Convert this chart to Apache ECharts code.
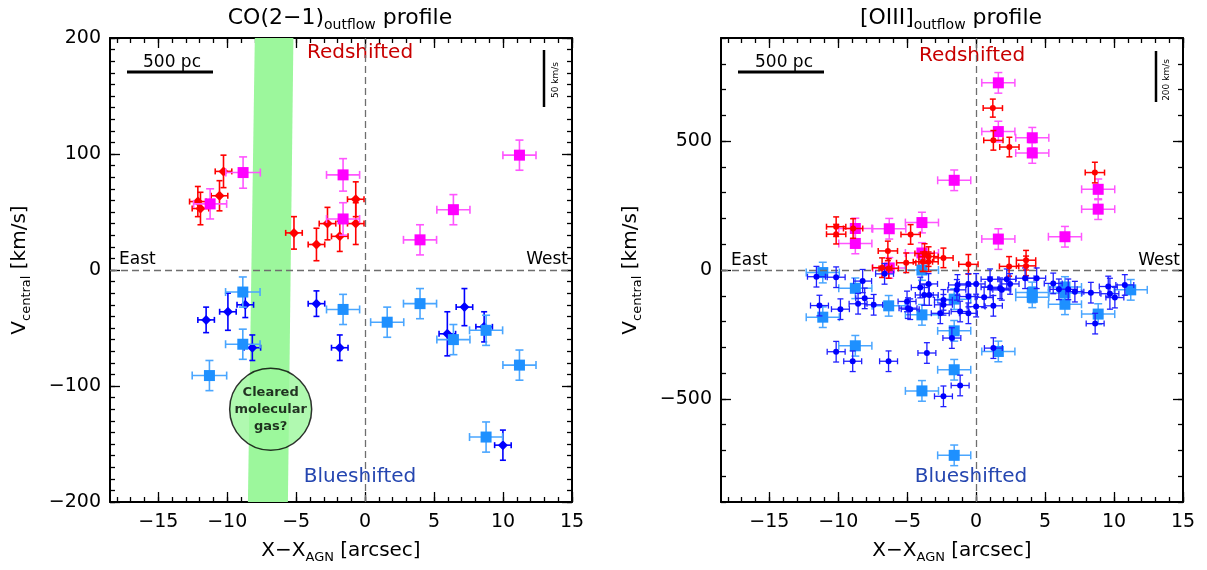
<!DOCTYPE html>
<html>
<head>
<meta charset="utf-8">
<script src="https://cdn.jsdelivr.net/npm/echarts@6/dist/echarts.min.js"></script>
<style>
html, body { margin: 0; padding: 0; background: #fff; }
#chart { width: 1207px; height: 570px; }
</style>
</head>
<body>
<div id="chart"></div>
<script>
// ---- axis ranges and tick labels ----
const X_MIN = -18.5, X_MAX = 15;
const xTickValues = [-15, -10, -5, 0, 5, 10, 15];
const coYMin = -200, coYMax = 200;
const coYTickValues = [-200, -100, 0, 100, 200];
const oiiiYMin = -900, oiiiYMax = 900;
const oiiiYTickValues = [-500, 0, 500];

// ---- CO(2-1) outflow: [offset arcsec, velocity km/s, x error, v error] ----
const coRedDots = [
  [-10.27, 85, 0.6, 14], [-10.56, 64, 0.6, 13], [-12.13, 59, 0.6, 13], [-11.94, 53, 0.6, 14],
  [-5.16, 32, 0.6, 14], [-3.53, 22, 0.6, 14], [-2.73, 40, 0.6, 14], [-1.84, 29, 0.6, 13],
  [-0.68, 61, 0.6, 15], [-0.68, 40, 0.6, 18]
];
const coRedSquares = [
  [-8.85, 84, 1.25, 13.5], [-1.6, 82, 1.2, 14], [-11.24, 57, 1.2, 13], [-1.6, 44, 1.2, 14],
  [11.19, 99, 1.2, 13], [6.4, 52, 1.2, 13], [3.98, 26, 1.2, 13]
];
const coBlueDots = [
  [-11.53, -43, 0.6, 11], [-9.95, -36, 0.6, 16], [-8.69, -30, 0.6, 11], [-8.18, -67, 0.6, 11],
  [-3.53, -29, 0.6, 11], [-1.84, -67, 0.6, 11], [7.2, -32, 0.6, 16], [5.96, -55, 0.6, 19],
  [8.63, -49, 0.6, 13], [9.99, -151, 0.6, 13]
];
const coBlueSquares = [
  [-8.87, -19, 1.25, 13], [-8.87, -64, 1.25, 13], [-11.29, -91, 1.25, 13], [-1.6, -34, 1.2, 13],
  [1.6, -45, 1.2, 13], [3.98, -29, 1.2, 13], [6.4, -60, 1.2, 13], [8.77, -52, 1.2, 13],
  [11.19, -82, 1.2, 13], [8.77, -144, 1.2, 13]
];
// corners of the cleared-gas band: [offset, velocity]
const clearedBand = [[-8.0, 200], [-5.2, 200], [-5.6, -200], [-8.5, -200]];
const clearedMarker = [[-6.85, -120]];

// ---- [OIII] outflow ----
const oiiiRedDots = [
  [1.21, 628, 0.7, 35], [1.25, 503, 0.7, 38], [2.41, 477, 0.7, 38], [8.61, 378, 0.7, 40],
  [-2.37, 47, 0.7, 38], [-0.56, 22, 0.7, 38], [2.39, 14, 0.7, 38], [3.62, 38, 0.7, 38],
  [3.62, 16, 0.7, 38], [-10.15, 168, 0.7, 38], [-10.15, 139, 0.7, 38], [-8.92, 161, 0.7, 38],
  [-4.75, 138, 0.7, 38], [-6.4, 74, 0.7, 38], [-6.82, 9, 0.7, 38], [-5.07, 28, 0.7, 38],
  [-3.74, 64, 0.7, 38], [-3.45, 52, 0.7, 38], [-3.86, 32, 0.7, 38], [-3.45, 32, 0.7, 38],
  [-6.34, 6, 0.7, 38]
];
const oiiiRedSquares = [
  [1.61, 726, 1.2, 40], [1.61, 537, 1.2, 40], [4.07, 513, 1.2, 40], [4.07, 454, 1.2, 40],
  [8.85, 313, 1.2, 40], [8.85, 236, 1.2, 40], [6.44, 129, 1.2, 40], [1.61, 120, 1.2, 40],
  [-1.59, 348, 1.2, 40], [-8.76, 161, 1.2, 40], [-8.76, 103, 1.2, 40], [-6.3, 160, 1.2, 40],
  [-3.93, 184, 1.2, 40], [-6.3, 8, 1.2, 40], [-3.93, 66, 1.2, 40]
];
const oiiiBlueDots = [
  [-11.58, -26, 0.65, 40], [-10.15, -28, 0.65, 40], [-11.36, -138, 0.65, 40], [-9.84, -152, 0.65, 40],
  [-10.15, -317, 0.65, 40], [-8.95, -354, 0.65, 40], [-8.23, -43, 0.65, 45], [-8.56, -131, 0.65, 40],
  [-8.08, -110, 0.65, 40], [-7.43, -135, 0.65, 40], [-6.35, -354, 0.65, 40], [-6.64, -15, 0.65, 40],
  [-5.01, -122, 0.65, 40], [-4.78, -152, 0.65, 40], [-4.05, -68, 0.65, 40], [-3.76, -97, 0.65, 40],
  [-3.4, -97, 0.65, 40], [-3.45, -54, 0.65, 40], [-3.57, -322, 0.65, 40], [-2.37, -490, 0.65, 40],
  [-2.37, -135, 0.65, 40], [-2.6, -168, 0.65, 40], [-1.16, -448, 0.65, 40], [-1.76, -264, 0.65, 40],
  [1.25, -303, 0.65, 40], [1.01, -36, 0.65, 40], [2.22, -36, 0.65, 40], [3.55, -32, 0.65, 40],
  [4.39, -32, 0.65, 40], [1.01, -67, 0.65, 40], [2.46, -54, 0.65, 40], [1.86, -77, 0.65, 40],
  [0.58, -106, 0.65, 40], [0.0, -142, 0.65, 40], [1.25, -139, 0.65, 40], [-0.56, -54, 0.65, 40],
  [0.0, -54, 0.65, 40], [-0.56, -168, 0.65, 40], [-1.16, -161, 0.65, 40], [-1.35, -58, 0.65, 40],
  [-2.37, -116, 0.65, 40], [5.59, -52, 0.65, 40], [7.16, -84, 0.65, 40], [8.32, -88, 0.65, 40],
  [9.58, -64, 0.65, 40], [9.7, -92, 0.65, 60], [10.06, -107, 0.65, 40], [10.78, -58, 0.65, 40],
  [8.63, -208, 0.65, 40], [6.0, -75, 0.65, 40], [6.68, -75, 0.65, 40], [-1.40, -77, 0.65, 40],
  [-0.56, -103, 0.65, 40], [-4.94, -148, 0.65, 40], [1.74, -71, 0.65, 40]
];
const oiiiBlueSquares = [
  [-11.12, -10, 1.2, 40], [-8.76, -71, 1.2, 40], [-11.12, -183, 1.2, 40], [-8.76, -294, 1.2, 40],
  [-6.34, -139, 1.2, 40], [-3.93, 0, 1.2, 40], [-3.93, -174, 1.2, 40], [-3.93, -469, 1.2, 40],
  [-1.59, -113, 1.2, 40], [-1.59, -236, 1.2, 40], [-1.59, -387, 1.2, 40], [-1.59, -719, 1.2, 40],
  [1.61, -316, 1.2, 40], [4.07, -87, 1.2, 40], [4.07, -106, 1.2, 40], [6.44, -66, 1.2, 40],
  [6.44, -89, 1.2, 40], [6.44, -133, 1.2, 40], [8.85, -171, 1.2, 40], [11.21, -77, 1.2, 40]
];

const FONT = 'DejaVu Sans';
const C_RED = '#ff0000', C_MAG = '#ff00ff', C_BLUE = '#0000ff', C_CYAN = '#1e90ff';

function steps(a, b, s) {
  const out = [];
  for (let v = a; v <= b + 1e-9; v += s) out.push(Math.round(v * 1000) / 1000);
  return out;
}
const minus = v => String(v).replace('-', '\u2212');

const nameRich = {
  a: { fontFamily: FONT, fontSize: 20, color: '#000', lineHeight: 28 },
  s: { fontFamily: FONT, fontSize: 13, color: '#000', padding: [13, 0, 0, 0] }
};

function axisSet(kind, grid, min, max, majors, minors, name, nameGap) {
  const isX = kind === 'x';
  const pos = isX ? ['bottom', 'top'] : ['left', 'right'];
  const line = { show: true, onZero: false, lineStyle: { color: '#000', width: 2 } };
  const noLine = { show: false, onZero: false };
  const tickStyle = { color: '#000', width: 1.3 };
  const base = { type: 'value', gridIndex: grid, min, max, splitLine: { show: false } };
  const major = { show: true, inside: true, length: 10, customValues: majors, lineStyle: tickStyle };
  const minor = { show: true, inside: true, length: 5, customValues: minors, lineStyle: tickStyle };
  return [
    Object.assign({}, base, {
      position: pos[0], axisLine: line, axisTick: major,
      axisLabel: { show: true, customValues: majors, formatter: minus, fontFamily: FONT,
                   fontSize: 19, color: '#000', margin: isX ? 11 : 9 },
      name, nameLocation: 'middle', nameGap,
      nameTextStyle: { rich: nameRich }
    }),
    Object.assign({}, base, { position: pos[0], axisLine: noLine, axisTick: minor, axisLabel: { show: false } }),
    Object.assign({}, base, { position: pos[1], axisLine: line, axisTick: major, axisLabel: { show: false } }),
    Object.assign({}, base, { position: pos[1], axisLine: noLine, axisTick: minor, axisLabel: { show: false } })
  ];
}

const xName = '{a|X\u2212X}{s|AGN}{a| [arcsec]}';
const yName = '{a|V}{s|central}{a| [km/s]}';
const xMinor = steps(-18, 15, 1);

const xAxes = [
  ...axisSet('x', 0, X_MIN, X_MAX, xTickValues, xMinor, xName, 35),
  ...axisSet('x', 1, X_MIN, X_MAX, xTickValues, xMinor, xName, 35)
];
const yAxes = [
  ...axisSet('y', 0, coYMin, coYMax, coYTickValues, steps(coYMin, coYMax, 10), yName, 76),
  ...axisSet('y', 1, oiiiYMin, oiiiYMax, oiiiYTickValues, steps(oiiiYMin, oiiiYMax, 100), yName, 76)
];

// error bars with end caps, sized in pixels
function errorBars(data, axisIdx, color, cap, width, z) {
  return {
    type: 'custom', xAxisIndex: axisIdx, yAxisIndex: axisIdx, z,
    data, encode: { x: 0, y: 1 }, silent: true,
    renderItem(params, api) {
      const x = api.value(0), y = api.value(1), ex = api.value(2), ey = api.value(3);
      const c = api.coord([x, y]);
      const l = api.coord([x - ex, y])[0], r = api.coord([x + ex, y])[0];
      const t = api.coord([x, y + ey])[1], b = api.coord([x, y - ey])[1];
      const style = { stroke: color, lineWidth: width, fill: null };
      const seg = (x1, y1, x2, y2) => ({ type: 'line', shape: { x1, y1, x2, y2 }, style });
      return {
        type: 'group', children: [
          seg(l, c[1], r, c[1]), seg(c[0], t, c[0], b),
          seg(l, c[1] - cap, l, c[1] + cap), seg(r, c[1] - cap, r, c[1] + cap),
          seg(c[0] - cap, t, c[0] + cap, t), seg(c[0] - cap, b, c[0] + cap, b)
        ]
      };
    }
  };
}
function markers(data, axisIdx, color, symbol, size, z, extra) {
  return Object.assign({
    type: 'scatter', xAxisIndex: axisIdx, yAxisIndex: axisIdx, z, silent: true,
    data: data.map(d => [d[0], d[1]]), symbol, symbolSize: size,
    itemStyle: { color, opacity: 1 }
  }, extra || {});
}
const zeroLines = {
  silent: true, symbol: ['none', 'none'], label: { show: false },
  lineStyle: { type: [7, 4], color: '#6e6e6e', width: 1.3 },
  data: [{ xAxis: 0 }, { yAxis: 0 }]
};

const series = [
  // cleared molecular gas band
  {
    type: 'custom', xAxisIndex: 0, yAxisIndex: 0, z: 1, silent: true,
    data: [[0]],
    renderItem(params, api) {
      return { type: 'polygon', shape: { points: clearedBand.map(p => api.coord(p)) },
               style: { fill: '#9cf79c' } };
    }
  },
  markers(clearedMarker, 0, '#9cf79c', 'circle', 82, 2, {
    itemStyle: { color: '#9cf79c', borderColor: '#000', borderWidth: 1.5 },
    label: { show: true, position: 'inside', formatter: 'Cleared\nmolecular\ngas?',
             fontFamily: FONT, fontSize: 13, lineHeight: 17, color: '#000', fontWeight: 'bold' },
    markLine: zeroLines
  }),
  // CO(2-1) panel
  errorBars(coRedDots, 0, C_RED, 3, 1.6, 3),
  markers(coRedDots, 0, C_RED, 'diamond', 10, 4),
  errorBars(coRedSquares, 0, '#ff55ff', 4, 1.6, 5),
  markers(coRedSquares, 0, C_MAG, 'rect', 11, 6),
  errorBars(coBlueDots, 0, C_BLUE, 3, 1.6, 3),
  markers(coBlueDots, 0, C_BLUE, 'diamond', 10, 4),
  errorBars(coBlueSquares, 0, '#4aa6ff', 4, 1.6, 5),
  markers(coBlueSquares, 0, C_CYAN, 'rect', 11, 6),
  // [OIII] panel
  errorBars(oiiiRedDots, 4, C_RED, 3, 1.5, 5),
  markers(oiiiRedDots, 4, C_RED, 'circle', 6, 6, { markLine: zeroLines }),
  errorBars(oiiiRedSquares, 4, '#ff55ff', 4, 1.5, 3),
  markers(oiiiRedSquares, 4, C_MAG, 'rect', 11, 4),
  errorBars(oiiiBlueSquares, 4, '#4aa6ff', 4, 1.5, 3),
  markers(oiiiBlueSquares, 4, C_CYAN, 'rect', 11, 4),
  errorBars(oiiiBlueDots, 4, '#2020ff', 3, 1.3, 5),
  markers(oiiiBlueDots, 4, C_BLUE, 'circle', 6, 6)
];

const titleRich = {
  a: { fontFamily: FONT, fontSize: 22, color: '#000', lineHeight: 30 },
  s: { fontFamily: FONT, fontSize: 14, color: '#000', padding: [15, 0, 0, 0] }
};
const txt = (x, y, text, opts) => ({
  type: 'text', x, y, silent: true,
  style: Object.assign({ text, fontFamily: FONT, fontSize: 17, fill: '#000', align: 'center', verticalAlign: 'middle' }, opts || {})
});
const bar = (x1, y1, x2, y2, w) => ({
  type: 'line', silent: true, shape: { x1, y1, x2, y2 }, style: { stroke: '#000', lineWidth: w }
});

const graphic = [
  txt(340, 18, '{a|CO(2\u22121)}{s|outflow}{a| profile}', { rich: titleRich }),
  txt(951, 18, '{a|[OIII]}{s|outflow}{a| profile}', { rich: titleRich }),
  // scale bars
  txt(172, 63, '500 pc'), bar(127, 72, 213, 72, 3),
  txt(784, 63, '500 pc'), bar(738, 72, 824, 72, 3),
  bar(544, 50, 544, 107, 2.5),
  Object.assign(txt(556, 80, '50 km/s', { fontSize: 9 }), { rotation: Math.PI / 2 }),
  bar(1156, 51, 1156, 102, 2.5),
  Object.assign(txt(1167, 80, '200 km/s', { fontSize: 9 }), { rotation: Math.PI / 2 }),
  // direction labels
  txt(360, 53, 'Redshifted', { fontSize: 20, fill: '#c80000' }),
  txt(972, 56, 'Redshifted', { fontSize: 20, fill: '#c80000' }),
  txt(360, 477, 'Blueshifted', { fontSize: 20, fill: '#2546b0' }),
  txt(971, 477, 'Blueshifted', { fontSize: 20, fill: '#2546b0' }),
  txt(119, 260, 'East', { align: 'left' }),
  txt(731, 261, 'East', { align: 'left' }),
  txt(568, 260, 'West', { align: 'right' }),
  txt(1180, 261, 'West', { align: 'right' })
];

const chart = echarts.init(document.getElementById('chart'), null, { renderer: 'canvas' });
chart.setOption({
  animation: false,
  backgroundColor: '#fff',
  grid: [
    { left: 110, top: 38, width: 462, height: 464 },
    { left: 721, top: 38, width: 462, height: 464 }
  ],
  xAxis: xAxes,
  yAxis: yAxes,
  series,
  graphic
});
</script>
</body>
</html>
